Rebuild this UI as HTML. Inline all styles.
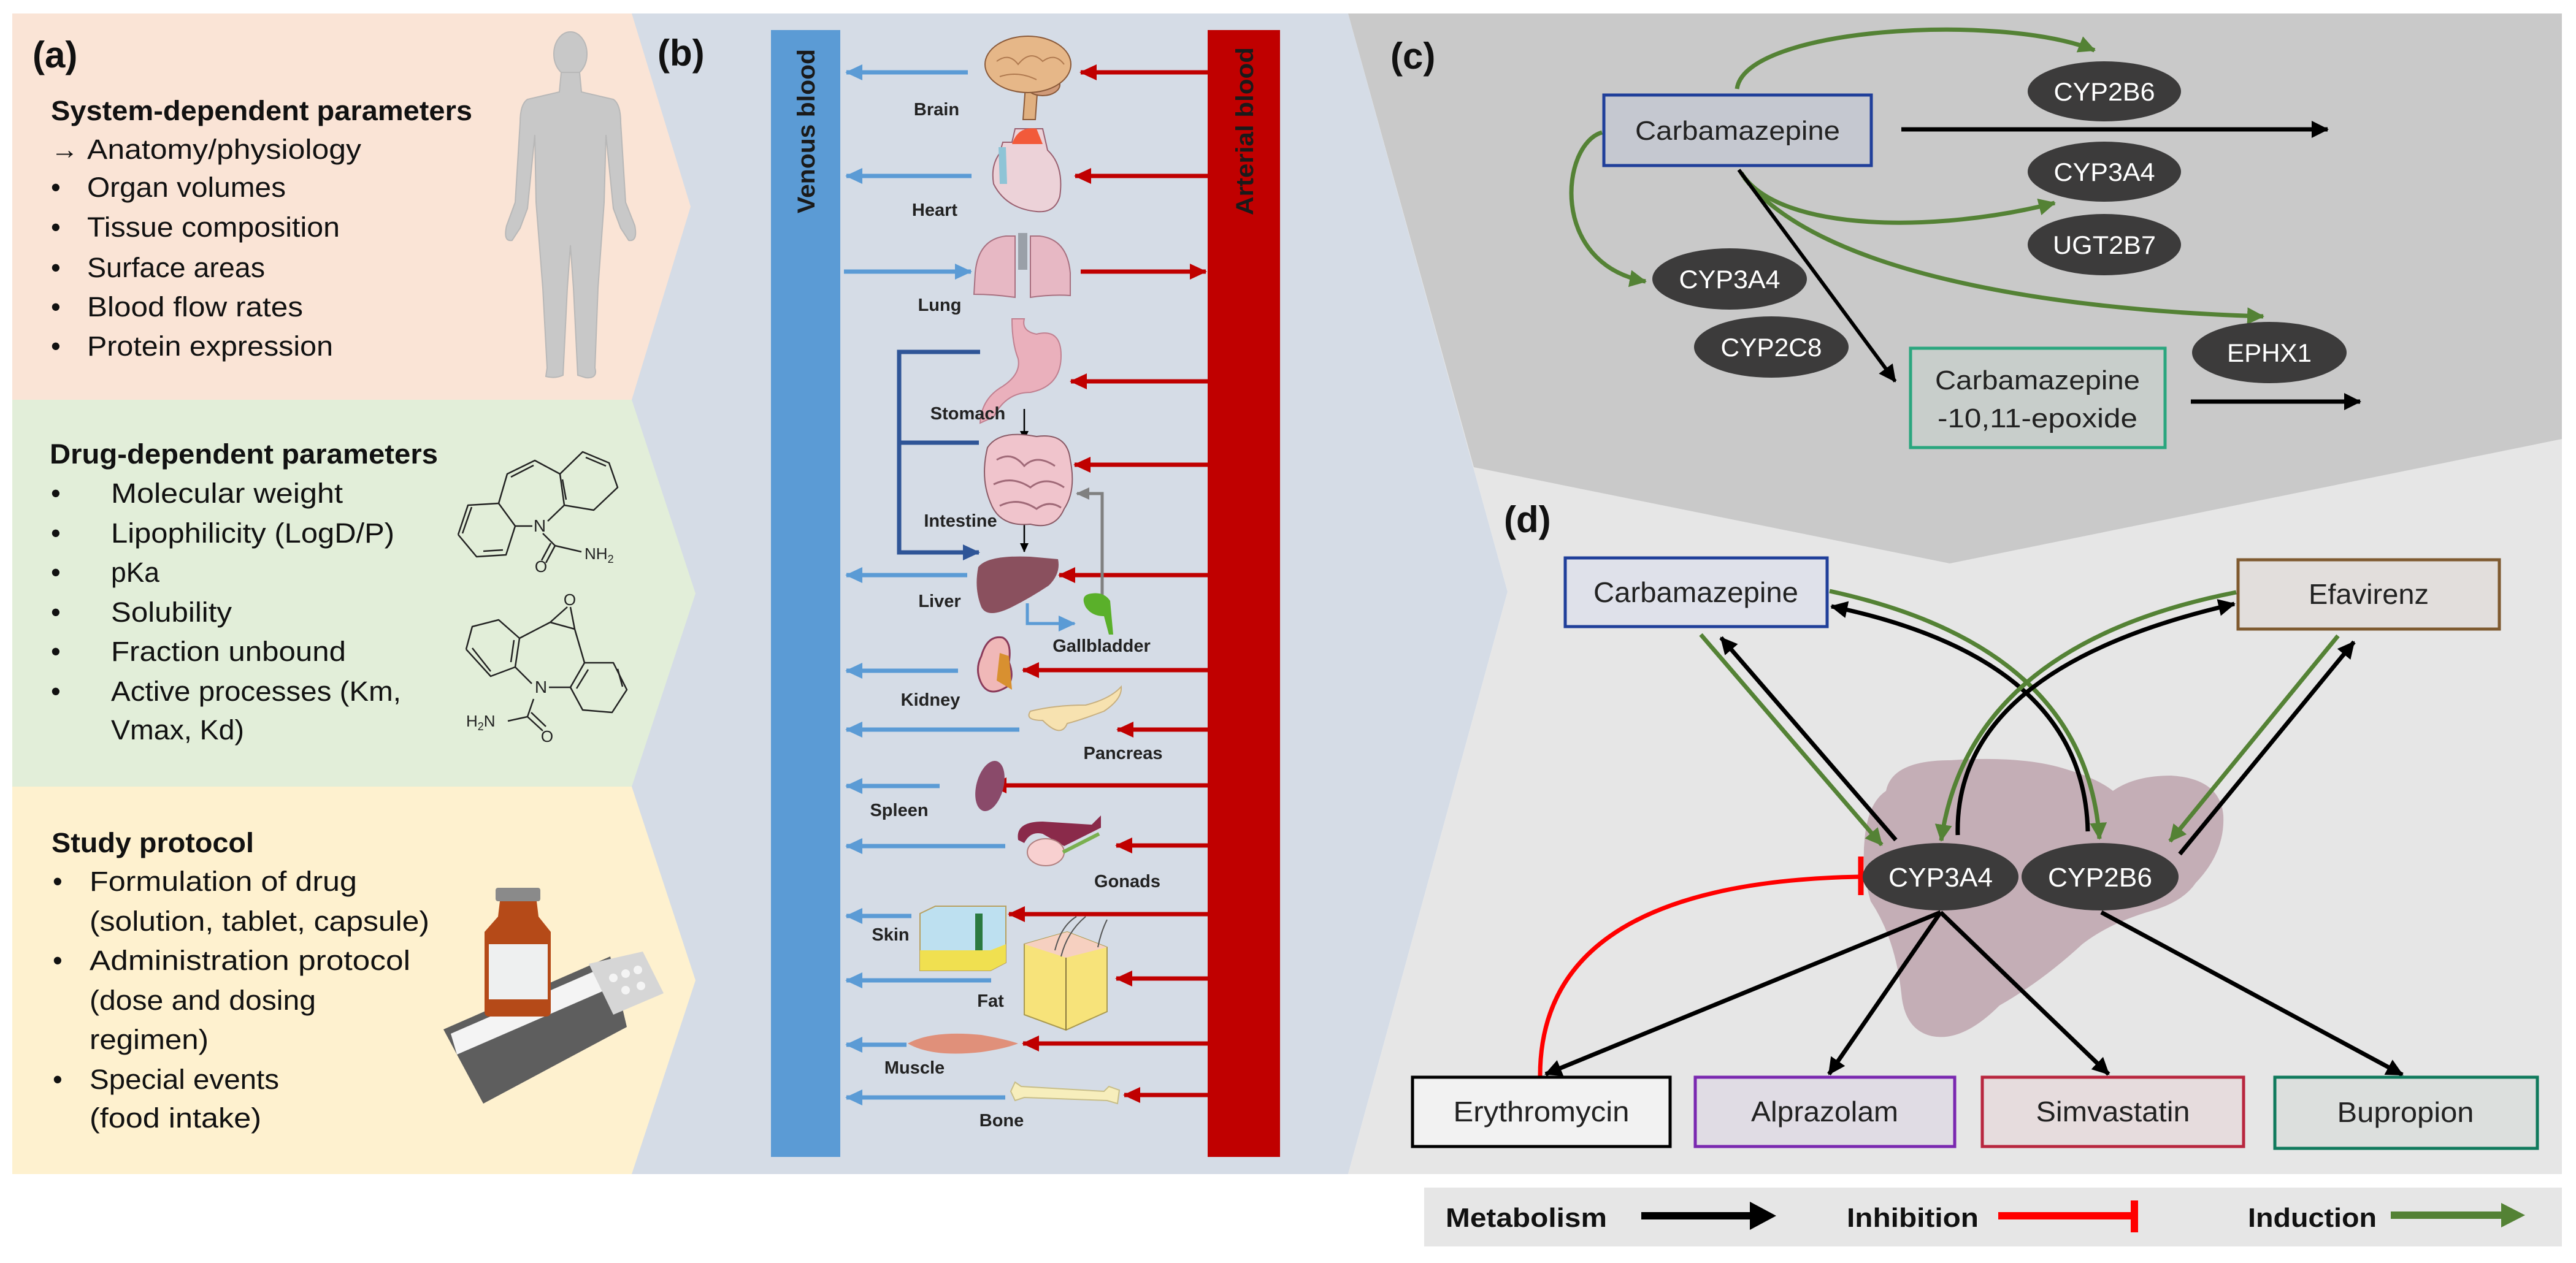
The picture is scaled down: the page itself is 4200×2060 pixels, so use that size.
<!DOCTYPE html>
<html><head><meta charset="utf-8"><style>
html,body{margin:0;padding:0;background:#fff;}
svg{display:block;font-family:"Liberation Sans",sans-serif;}
</style></head><body>
<svg width="4200" height="2060" viewBox="0 0 4200 2060" xmlns="http://www.w3.org/2000/svg">
<defs>
<marker id="aBlue" markerUnits="userSpaceOnUse" markerWidth="30" markerHeight="30" refX="26" refY="13" orient="auto"><path d="M0,0 L28,13 L0,26 z" fill="#5b9bd5"/></marker>
<marker id="aRed" markerUnits="userSpaceOnUse" markerWidth="30" markerHeight="30" refX="26" refY="13" orient="auto"><path d="M0,0 L28,13 L0,26 z" fill="#c00000"/></marker>
<marker id="aDB" markerUnits="userSpaceOnUse" markerWidth="30" markerHeight="30" refX="26" refY="13" orient="auto"><path d="M0,0 L28,13 L0,26 z" fill="#2f5597"/></marker>
<marker id="aGray" markerUnits="userSpaceOnUse" markerWidth="30" markerHeight="30" refX="20" refY="10" orient="auto"><path d="M0,0 L22,10 L0,20 z" fill="#808080"/></marker>
<marker id="aSmall" markerUnits="userSpaceOnUse" markerWidth="20" markerHeight="20" refX="14" refY="7" orient="auto"><path d="M0,0 L15,7 L0,14 z" fill="#000"/></marker>
<marker id="aBlk" markerUnits="userSpaceOnUse" markerWidth="34" markerHeight="34" refX="26" refY="14" orient="auto"><path d="M0,0 L28,14 L0,28 z" fill="#000"/></marker>
<marker id="aGrn" markerUnits="userSpaceOnUse" markerWidth="34" markerHeight="34" refX="26" refY="14" orient="auto"><path d="M0,0 L28,14 L0,28 z" fill="#548235"/></marker>
</defs>

<polygon points="1030,22 2198,22 2458,965 2198,1915 1030,1915" fill="#d5dce6"/>
<polygon points="2198,22 4177,22 4177,1915 2198,1915 2458,965" fill="#e6e6e6"/>
<polygon points="2198,22 4177,22 4177,716 3179,919 2403,762" fill="#c9c9c9"/>
<polygon points="20,22 1030,22 1126,337 1030,652 20,652" fill="#fae4d6"/>
<polygon points="20,652 1030,652 1134,968 1030,1283 20,1283" fill="#e2eed9"/>
<polygon points="20,1283 1030,1283 1134,1599 1030,1915 20,1915" fill="#fef1cf"/>

<text x="53" y="110" font-size="60" font-weight="bold" fill="#111">(a)</text>
<g font-size="45" fill="#111">
<text x="83" y="196" font-weight="bold" textLength="687" lengthAdjust="spacingAndGlyphs">System-dependent parameters</text>
<text x="83" y="259">→</text>
<text x="142" y="259" textLength="447" lengthAdjust="spacingAndGlyphs">Anatomy/physiology</text>
<text x="83" y="321">•</text><text x="142" y="321" textLength="324" lengthAdjust="spacingAndGlyphs">Organ volumes</text>
<text x="83" y="386">•</text><text x="142" y="386" textLength="412" lengthAdjust="spacingAndGlyphs">Tissue composition</text>
<text x="83" y="452">•</text><text x="142" y="452" textLength="290" lengthAdjust="spacingAndGlyphs">Surface areas</text>
<text x="83" y="516">•</text><text x="142" y="516" textLength="352" lengthAdjust="spacingAndGlyphs">Blood flow rates</text>
<text x="83" y="580">•</text><text x="142" y="580" textLength="401" lengthAdjust="spacingAndGlyphs">Protein expression</text>

<text x="81" y="756" font-weight="bold" textLength="633" lengthAdjust="spacingAndGlyphs">Drug-dependent parameters</text>
<text x="83" y="820">•</text><text x="181" y="820" textLength="378" lengthAdjust="spacingAndGlyphs">Molecular weight</text>
<text x="83" y="885">•</text><text x="181" y="885" textLength="462" lengthAdjust="spacingAndGlyphs">Lipophilicity (LogD/P)</text>
<text x="83" y="949">•</text><text x="181" y="949" textLength="79" lengthAdjust="spacingAndGlyphs">pKa</text>
<text x="83" y="1014">•</text><text x="181" y="1014" textLength="197" lengthAdjust="spacingAndGlyphs">Solubility</text>
<text x="83" y="1078">•</text><text x="181" y="1078" textLength="383" lengthAdjust="spacingAndGlyphs">Fraction unbound</text>
<text x="83" y="1143">•</text><text x="181" y="1143" textLength="473" lengthAdjust="spacingAndGlyphs">Active processes (Km,</text>
<text x="181" y="1206" textLength="217" lengthAdjust="spacingAndGlyphs">Vmax, Kd)</text>

<text x="84" y="1390" font-weight="bold" textLength="330" lengthAdjust="spacingAndGlyphs">Study protocol</text>
<text x="86" y="1453">•</text><text x="146" y="1453" textLength="436" lengthAdjust="spacingAndGlyphs">Formulation of drug</text>
<text x="146" y="1518" textLength="554" lengthAdjust="spacingAndGlyphs">(solution, tablet, capsule)</text>
<text x="86" y="1582">•</text><text x="146" y="1582" textLength="523" lengthAdjust="spacingAndGlyphs">Administration protocol</text>
<text x="146" y="1647" textLength="369" lengthAdjust="spacingAndGlyphs">(dose and dosing</text>
<text x="146" y="1711" textLength="194" lengthAdjust="spacingAndGlyphs">regimen)</text>
<text x="86" y="1776">•</text><text x="146" y="1776" textLength="309" lengthAdjust="spacingAndGlyphs">Special events</text>
<text x="146" y="1839" textLength="280" lengthAdjust="spacingAndGlyphs">(food intake)</text>
</g>

<g fill="#c8c8c8" stroke="#b8b8b8" stroke-width="2">
<ellipse cx="930" cy="88" rx="27" ry="36"/>
<path d="M915,118 L945,118 L948,150 L1000,162 Q1012,170 1012,200 L1020,330 L1035,368 Q1040,395 1025,392 L1012,372 L1000,340 L988,220 L985,330 L975,470 L970,600 Q975,618 955,616 L942,612 L935,470 L930,400 L925,470 L918,612 Q905,618 890,614 L892,600 L885,470 L874,330 L872,220 L860,340 L848,372 L835,392 Q820,395 826,368 L840,330 L848,200 Q848,170 860,162 L912,150 Z"/>
</g>

<g fill="none" stroke="#222" stroke-width="2.5" stroke-linejoin="round">
<polyline points="747,872 763,824 813,821 840,858 825,905 777,908 747,872"/>
<line x1="754" y1="870" x2="769" y2="827" /><line x1="788" y1="899" x2="820" y2="897"/>
<polyline points="813,821 827,773 872,751 913,773 920,824"/>
<line x1="833" y1="778" x2="870" y2="759"/>
<polyline points="913,773 950,737 993,755 1007,795 968,832 920,824"/>
<line x1="917" y1="782" x2="923" y2="815"/><line x1="955" y1="746" x2="988" y2="760"/>
<line x1="840" y1="858" x2="868" y2="858"/><line x1="893" y1="850" x2="920" y2="824"/>
<line x1="885" y1="870" x2="905" y2="890"/><line x1="905" y1="890" x2="948" y2="900"/>
<line x1="905" y1="890" x2="890" y2="918"/><line x1="898" y1="886" x2="883" y2="914"/>
<polyline points="760,1059 770,1022 813,1011 847,1041 840,1088 800,1103 760,1059"/>
<line x1="770" y1="1057" x2="800" y2="1095"/><line x1="838" y1="1044" x2="833" y2="1080"/>
<line x1="847" y1="1041" x2="897" y2="1015"/><line x1="897" y1="1015" x2="937" y2="1026"/><line x1="937" y1="1026" x2="953" y2="1081"/>
<line x1="897" y1="1015" x2="925" y2="990"/><line x1="937" y1="1026" x2="930" y2="990"/>
<polyline points="953,1081 1000,1081 1022,1125 998,1162 950,1158 930,1121 953,1081"/>
<line x1="959" y1="1092" x2="940" y2="1123"/><line x1="1007" y1="1091" x2="1015" y2="1120"/>
<line x1="840" y1="1088" x2="867" y2="1115"/><line x1="895" y1="1121" x2="930" y2="1121"/>
<line x1="870" y1="1140" x2="860" y2="1169"/><line x1="860" y1="1169" x2="828" y2="1176"/>
<line x1="860" y1="1169" x2="885" y2="1192"/><line x1="866" y1="1162" x2="890" y2="1185"/>
</g>
<g font-size="26" fill="#222">
<text x="880" y="867" text-anchor="middle" font-size="28">N</text>
<text x="953" y="912">NH<tspan font-size="18" dy="6">2</tspan></text>
<text x="882" y="933" text-anchor="middle">O</text>
<text x="929" y="987" text-anchor="middle">O</text>
<text x="882" y="1130" text-anchor="middle" font-size="28">N</text>
<text x="760" y="1185">H<tspan font-size="18" dy="6">2</tspan><tspan dy="-6">N</tspan></text>
<text x="892" y="1210" text-anchor="middle">O</text>
</g>

<polygon points="723,1679 995,1560 1022,1675 788,1800" fill="#5e5e5e"/>
<polygon points="735,1686 990,1575 998,1610 745,1720" fill="#f4f4f4"/>
<polygon points="960,1572 1048,1552 1082,1620 1000,1655" fill="#d6d6d6"/>
<circle cx="1000" cy="1595" r="7" fill="#f4f4f4"/><circle cx="1020" cy="1588" r="7" fill="#f4f4f4"/><circle cx="1040" cy="1582" r="7" fill="#f4f4f4"/><circle cx="1020" cy="1615" r="7" fill="#f4f4f4"/><circle cx="1045" cy="1608" r="7" fill="#f4f4f4"/>
<rect x="808" y="1448" width="73" height="22" rx="4" fill="#8a8a8a"/>
<path d="M815,1470 L875,1470 L878,1495 L898,1520 L898,1650 Q898,1658 890,1658 L798,1658 Q790,1658 790,1650 L790,1520 L812,1495 Z" fill="#b54a18"/>
<rect x="797" y="1540" width="96" height="90" fill="#eef0f0"/>

<text x="1072" y="107" font-size="60" font-weight="bold" fill="#111">(b)</text>
<rect x="1257" y="49" width="113" height="1838" fill="#5b9bd5"/>
<rect x="1969" y="49" width="118" height="1838" fill="#c00000"/>
<text transform="translate(1328,214) rotate(-90)" font-size="40" font-weight="bold" fill="#1a1a1a" text-anchor="middle" textLength="268" lengthAdjust="spacingAndGlyphs">Venous blood</text>
<text transform="translate(2043,214) rotate(-90)" font-size="40" font-weight="bold" fill="#1a1a1a" text-anchor="middle" textLength="274" lengthAdjust="spacingAndGlyphs">Arterial blood</text>

<g stroke-width="7" fill="none">
<g stroke="#5b9bd5" marker-end="url(#aBlue)">
<line x1="1578" y1="118" x2="1380" y2="118"/>
<line x1="1584" y1="287" x2="1380" y2="287"/>
<line x1="1577" y1="938" x2="1380" y2="938"/>
<line x1="1562" y1="1094" x2="1380" y2="1094"/>
<line x1="1662" y1="1190" x2="1380" y2="1190"/>
<line x1="1532" y1="1282" x2="1380" y2="1282"/>
<line x1="1639" y1="1380" x2="1380" y2="1380"/>
<line x1="1486" y1="1494" x2="1380" y2="1494"/>
<line x1="1616" y1="1599" x2="1380" y2="1599"/>
<line x1="1478" y1="1704" x2="1380" y2="1704"/>
<line x1="1639" y1="1790" x2="1380" y2="1790"/>
<line x1="1376" y1="443" x2="1583" y2="443"/>
<polyline points="1675,984 1675,1017 1752,1017" stroke-width="5"/>
</g>
<g stroke="#c00000" marker-end="url(#aRed)">
<line x1="1969" y1="118" x2="1762" y2="118"/>
<line x1="1969" y1="287" x2="1753" y2="287"/>
<line x1="1762" y1="443" x2="1966" y2="443"/>
<line x1="1969" y1="622" x2="1746" y2="622"/>
<line x1="1969" y1="758" x2="1752" y2="758"/>
<line x1="1969" y1="938" x2="1727" y2="938"/>
<line x1="1969" y1="1093" x2="1668" y2="1093"/>
<line x1="1969" y1="1190" x2="1822" y2="1190"/>
<line x1="1969" y1="1281" x2="1615" y2="1281"/>
<line x1="1969" y1="1379" x2="1820" y2="1379"/>
<line x1="1969" y1="1491" x2="1645" y2="1491"/>
<line x1="1969" y1="1596" x2="1820" y2="1596"/>
<line x1="1969" y1="1702" x2="1668" y2="1702"/>
<line x1="1969" y1="1786" x2="1833" y2="1786"/>
</g>
<polyline points="1598,574 1466,574 1466,901 1596,901" stroke="#2f5597" marker-end="url(#aDB)"/>
<line x1="1466" y1="722" x2="1596" y2="722" stroke="#2f5597"/>
<polyline points="1797,1000 1797,805 1756,805" stroke="#808080" stroke-width="5" marker-end="url(#aGray)"/>
<line x1="1670" y1="667" x2="1670" y2="717" stroke="#000" stroke-width="2.5" marker-end="url(#aSmall)"/>
<line x1="1670" y1="855" x2="1670" y2="900" stroke="#000" stroke-width="2.5" marker-end="url(#aSmall)"/>
</g>

<!-- brain -->
<path d="M1672,140 L1692,140 L1688,195 L1668,195 Z" fill="#e0b080" stroke="#8a5a3a" stroke-width="2"/>
<ellipse cx="1700" cy="138" rx="28" ry="18" fill="#d09a78" stroke="#8a5a3a" stroke-width="2"/>
<ellipse cx="1676" cy="105" rx="70" ry="46" fill="#e6b788" stroke="#8a5a3a" stroke-width="2"/>
<path d="M1625,100 Q1645,85 1660,105 Q1680,80 1700,100 Q1720,85 1735,105 M1630,125 Q1660,115 1690,130" fill="none" stroke="#b07a50" stroke-width="2"/>
<!-- heart -->
<path d="M1630,250 L1635,232 L1650,232 L1655,210 L1700,210 L1708,245 Q1735,270 1728,320 Q1720,348 1690,345 Q1640,340 1620,300 Q1615,270 1630,250 Z" fill="#ecd2d8" stroke="#9a6070" stroke-width="2"/>
<path d="M1650,235 Q1660,205 1690,210 L1700,235 Z" fill="#f25a3a"/>
<path d="M1628,240 L1640,240 L1642,300 L1630,300 Z" fill="#8ec4d6"/>
<!-- lungs -->
<path d="M1590,445 Q1595,390 1640,385 L1655,385 L1655,485 Q1620,480 1588,480 Z" fill="#e7b8c4" stroke="#a87080" stroke-width="2"/>
<path d="M1745,445 Q1740,390 1695,385 L1680,385 L1680,485 Q1715,480 1745,482 Z" fill="#e7b8c4" stroke="#a87080" stroke-width="2"/>
<rect x="1660" y="380" width="15" height="60" fill="#9aa0a8"/>
<path d="M1650,520 L1670,520 Q1665,540 1690,545 Q1730,535 1730,580 Q1730,630 1680,640 Q1640,640 1620,680 L1598,690 Q1600,650 1635,630 Q1665,610 1660,585 Q1650,560 1650,520 Z" fill="#eab0bc" stroke="#c08090" stroke-width="2"/>
<path d="M1610,730 Q1630,700 1690,712 Q1740,705 1745,750 Q1755,800 1735,830 Q1720,865 1680,855 Q1630,860 1615,820 Q1598,780 1610,730 Z" fill="#f0c4cc" stroke="#8a5a66" stroke-width="2"/>
<path d="M1625,750 Q1650,735 1670,760 Q1690,740 1720,760 M1620,790 Q1650,775 1680,795 Q1705,775 1735,795 M1630,825 Q1660,810 1690,830 Q1710,815 1730,828" fill="none" stroke="#a06a78" stroke-width="3"/>
<path d="M1595,925 Q1610,905 1680,908 L1725,912 Q1730,935 1710,955 Q1680,975 1650,990 Q1610,1010 1600,990 Q1588,960 1595,925 Z" fill="#8a505e"/>
<path d="M1770,990 Q1760,970 1780,968 Q1800,965 1810,980 L1815,1035 L1808,1035 L1800,1005 Q1780,1005 1770,990 Z" fill="#5ab02a"/>
<path d="M1600,1070 Q1610,1035 1635,1040 Q1650,1048 1645,1080 Q1655,1105 1642,1120 Q1610,1140 1598,1110 Q1590,1090 1600,1070 Z" fill="#f0b8b8" stroke="#8a3a5a" stroke-width="3"/>
<path d="M1630,1065 L1645,1070 L1650,1125 L1625,1110 Z" fill="#d89030"/>
<path d="M1680,1160 Q1720,1150 1770,1150 Q1810,1140 1828,1120 Q1830,1140 1800,1160 Q1760,1175 1740,1180 Q1730,1205 1700,1175 Q1670,1175 1680,1160 Z" fill="#f7e2b0" stroke="#c8b080" stroke-width="2"/>
<!-- spleen -->
<ellipse cx="1614" cy="1282" rx="22" ry="42" transform="rotate(15 1614 1282)" fill="#8a4a6a"/>
<path d="M1660,1370 Q1655,1340 1700,1340 L1780,1345 L1795,1330 L1795,1350 L1735,1380 L1700,1360 Q1680,1355 1670,1375 Z" fill="#8a2a4a"/>
<ellipse cx="1705" cy="1390" rx="30" ry="22" fill="#f8d0d0" stroke="#b08080" stroke-width="2"/>
<line x1="1733" y1="1390" x2="1792" y2="1360" stroke="#7ab050" stroke-width="6"/>
<polygon points="1500,1490 1525,1478 1640,1478 1640,1570 1615,1583 1500,1583" fill="#bde0f0" stroke="#b8a060" stroke-width="2"/>
<polygon points="1500,1550 1615,1550 1640,1540 1640,1570 1615,1583 1500,1583" fill="#f0e050"/>
<rect x="1590" y="1490" width="12" height="60" fill="#2a7a40"/>
<polygon points="1670,1540 1740,1520 1805,1545 1805,1650 1738,1680 1670,1655" fill="#f7e37a" stroke="#aa9a50" stroke-width="2"/>
<polygon points="1670,1540 1740,1520 1805,1545 1738,1562" fill="#f6d0c0"/>
<line x1="1738" y1="1562" x2="1738" y2="1680" stroke="#8a7a40" stroke-width="2"/>
<path d="M1730,1560 Q1740,1520 1770,1495 M1790,1545 Q1795,1520 1805,1500 M1720,1550 Q1730,1510 1755,1495" stroke="#555" stroke-width="2" fill="none"/>
<path d="M1480,1702 Q1520,1680 1600,1688 Q1640,1695 1660,1702 Q1640,1710 1600,1716 Q1520,1725 1480,1702 Z" fill="#e0907a"/>
<path d="M1648,1780 L1655,1765 L1665,1772 L1800,1780 L1808,1772 L1825,1778 L1822,1800 L1805,1795 L1670,1790 L1655,1795 Z" fill="#f7eebc" stroke="#c8be88" stroke-width="2"/>

<g font-size="29" font-weight="bold" fill="#222" text-anchor="middle">
<text x="1527" y="188">Brain</text>
<text x="1524" y="352">Heart</text>
<text x="1532" y="507">Lung</text>
<text x="1578" y="684">Stomach</text>
<text x="1566" y="859">Intestine</text>
<text x="1532" y="990">Liver</text>
<text x="1796" y="1063">Gallbladder</text>
<text x="1517" y="1151">Kidney</text>
<text x="1831" y="1238">Pancreas</text>
<text x="1466" y="1331">Spleen</text>
<text x="1838" y="1447">Gonads</text>
<text x="1452" y="1534">Skin</text>
<text x="1615" y="1642">Fat</text>
<text x="1491" y="1751">Muscle</text>
<text x="1633" y="1837">Bone</text>
</g>

<text x="2267" y="112" font-size="60" font-weight="bold" fill="#111">(c)</text>
<g fill="none" stroke-width="7">
<path d="M2832,145 C2845,45 3260,20 3415,82" stroke="#548235" marker-end="url(#aGrn)"/>
<path d="M2612,216 C2545,235 2525,430 2683,459" stroke="#548235" marker-end="url(#aGrn)"/>
<path d="M2839,282 C2900,380 3160,380 3350,331" stroke="#548235" marker-end="url(#aGrn)"/>
<path d="M2844,290 C2960,440 3320,505 3690,516" stroke="#548235" marker-end="url(#aGrn)"/>
<line x1="3100" y1="211" x2="3795" y2="211" stroke="#000" marker-end="url(#aBlk)"/>
<line x1="2835" y1="277" x2="3090" y2="622" stroke="#000" stroke-width="6" marker-end="url(#aBlk)"/>
<line x1="3572" y1="655" x2="3848" y2="655" stroke="#000" marker-end="url(#aBlk)"/>
</g>
<rect x="2615" y="155" width="436" height="115" fill="#c5c8d0" stroke="#203f9a" stroke-width="5"/>
<text x="2833" y="228" font-size="44" fill="#222" text-anchor="middle" textLength="334" lengthAdjust="spacingAndGlyphs">Carbamazepine</text>
<rect x="3115" y="568" width="415" height="162" fill="#c8cecb" stroke="#2aa67e" stroke-width="5"/>
<text x="3322" y="635" font-size="44" fill="#222" text-anchor="middle" textLength="334" lengthAdjust="spacingAndGlyphs">Carbamazepine</text>
<text x="3322" y="697" font-size="44" fill="#222" text-anchor="middle" textLength="326" lengthAdjust="spacingAndGlyphs">-10,11-epoxide</text>
<g fill="#3c3b3b">
<ellipse cx="3431" cy="149" rx="125" ry="49"/>
<ellipse cx="3431" cy="280" rx="125" ry="49"/>
<ellipse cx="3431" cy="399" rx="125" ry="50"/>
<ellipse cx="2820" cy="455" rx="126" ry="50"/>
<ellipse cx="2888" cy="566" rx="126" ry="50"/>
<ellipse cx="3700" cy="575" rx="126" ry="50"/>
</g>
<g font-size="42" fill="#fff" text-anchor="middle">
<text x="3431" y="164" textLength="165" lengthAdjust="spacingAndGlyphs">CYP2B6</text>
<text x="3431" y="295" textLength="165" lengthAdjust="spacingAndGlyphs">CYP3A4</text>
<text x="3431" y="414" textLength="168" lengthAdjust="spacingAndGlyphs">UGT2B7</text>
<text x="2820" y="470" textLength="165" lengthAdjust="spacingAndGlyphs">CYP3A4</text>
<text x="2888" y="581" textLength="165" lengthAdjust="spacingAndGlyphs">CYP2C8</text>
<text x="3700" y="590" textLength="138" lengthAdjust="spacingAndGlyphs">EPHX1</text>
</g>

<text x="2452" y="868" font-size="60" font-weight="bold" fill="#111">(d)</text>
<path d="M3075,1290 Q3085,1240 3180,1240 Q3300,1232 3370,1255 Q3420,1270 3445,1290 Q3480,1265 3540,1265 Q3620,1270 3625,1330 Q3628,1390 3580,1440 Q3560,1470 3510,1485 Q3440,1505 3395,1540 Q3330,1600 3260,1640 Q3200,1700 3150,1690 Q3105,1680 3100,1620 Q3090,1530 3050,1470 Q3035,1420 3040,1370 Q3045,1310 3075,1290 Z" fill="#c4aeb6"/>
<g fill="none" stroke-width="7">
<line x1="2773" y1="1035" x2="3068" y2="1378" stroke="#548235" marker-end="url(#aGrn)"/>
<line x1="3091" y1="1370" x2="2806" y2="1040" stroke="#000" marker-end="url(#aBlk)"/>
<path d="M2983,964 Q3401,1055 3423,1368" stroke="#548235" marker-end="url(#aGrn)"/>
<path d="M3404,1356 Q3398,1075 2986,989" stroke="#000" marker-end="url(#aBlk)"/>
<path d="M3646,966 Q3210,1052 3165,1371" stroke="#548235" marker-end="url(#aGrn)"/>
<path d="M3192,1362 Q3185,1090 3643,985" stroke="#000" marker-end="url(#aBlk)"/>
<line x1="3812" y1="1037" x2="3538" y2="1372" stroke="#548235" marker-end="url(#aGrn)"/>
<line x1="3554" y1="1393" x2="3838" y2="1047" stroke="#000" marker-end="url(#aBlk)"/>
<path d="M2511,1756 Q2510,1440 3032,1430" stroke="#ff0000"/>
<line x1="3034" y1="1397" x2="3034" y2="1460" stroke="#ff0000" stroke-width="9"/>
<line x1="3164" y1="1488" x2="2520" y2="1752" stroke="#000" marker-end="url(#aBlk)"/>
<line x1="3164" y1="1488" x2="2982" y2="1752" stroke="#000" marker-end="url(#aBlk)"/>
<line x1="3164" y1="1488" x2="3438" y2="1752" stroke="#000" marker-end="url(#aBlk)"/>
<line x1="3426" y1="1488" x2="3917" y2="1753" stroke="#000" marker-end="url(#aBlk)"/>
</g>
<ellipse cx="3164" cy="1430" rx="127" ry="55" fill="#3c3b3b"/>
<ellipse cx="3424" cy="1430" rx="128" ry="55" fill="#3c3b3b"/>
<text x="3164" y="1446" font-size="44" fill="#fff" text-anchor="middle" textLength="170" lengthAdjust="spacingAndGlyphs">CYP3A4</text>
<text x="3424" y="1446" font-size="44" fill="#fff" text-anchor="middle" textLength="170" lengthAdjust="spacingAndGlyphs">CYP2B6</text>

<g stroke-width="5">
<rect x="2552" y="910" width="427" height="112" fill="#dfe1ea" stroke="#203f9a"/>
<rect x="3649" y="913" width="426" height="113" fill="#e2dedc" stroke="#7f5a30"/>
<rect x="2303" y="1757" width="420" height="113" fill="#f2f2f2" stroke="#000"/>
<rect x="2764" y="1757" width="423" height="113" fill="#e0dce4" stroke="#7a28b0"/>
<rect x="3232" y="1757" width="426" height="113" fill="#e6dcdd" stroke="#b8263e"/>
<rect x="3709" y="1757" width="428" height="116" fill="#dcdfdd" stroke="#107a5c"/>
</g>
<g font-size="46" fill="#222" text-anchor="middle">
<text x="2765" y="982" textLength="334" lengthAdjust="spacingAndGlyphs">Carbamazepine</text>
<text x="3862" y="985" textLength="196" lengthAdjust="spacingAndGlyphs">Efavirenz</text>
<text x="2513" y="1829" textLength="287" lengthAdjust="spacingAndGlyphs">Erythromycin</text>
<text x="2975" y="1829" textLength="240" lengthAdjust="spacingAndGlyphs">Alprazolam</text>
<text x="3445" y="1829" textLength="251" lengthAdjust="spacingAndGlyphs">Simvastatin</text>
<text x="3922" y="1830" textLength="223" lengthAdjust="spacingAndGlyphs">Bupropion</text>
</g>

<rect x="2322" y="1937" width="1855" height="96" fill="#e6e6e6"/>
<g font-size="44" font-weight="bold" fill="#111">
<text x="2357" y="2001" textLength="263" lengthAdjust="spacingAndGlyphs">Metabolism</text>
<text x="3011" y="2001" textLength="215" lengthAdjust="spacingAndGlyphs">Inhibition</text>
<text x="3665" y="2001" textLength="210" lengthAdjust="spacingAndGlyphs">Induction</text>
</g>
<line x1="2676" y1="1983" x2="2855" y2="1983" stroke="#000" stroke-width="12"/>
<polygon points="2853,1960 2896,1983 2853,2006" fill="#000"/>
<line x1="3258" y1="1983" x2="3480" y2="1983" stroke="#ff0000" stroke-width="12"/>
<line x1="3480" y1="1958" x2="3480" y2="2010" stroke="#ff0000" stroke-width="12"/>
<line x1="3898" y1="1982" x2="4080" y2="1982" stroke="#548235" stroke-width="12"/>
<polygon points="4078,1962 4117,1982 4078,2002" fill="#548235"/>
</svg>
</body></html>
